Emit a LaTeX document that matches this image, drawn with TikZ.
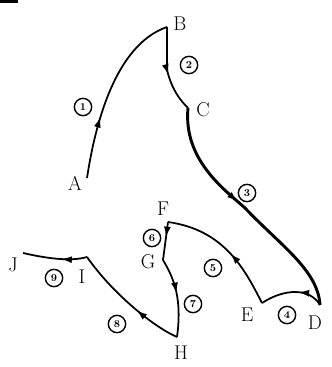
\documentclass[tikz,border=0pt]{standalone}
\usepackage{tikz}
\usetikzlibrary{arrows.meta, positioning, decorations.markings}

\tikzset{
    path/.style={line width=1.5pt},
    arr/.style={postaction={decorate, decoration={markings,
        mark=at position #1 with {\arrow{Latex[length=9pt, width=6pt]}}}}},
    num/.style={circle, draw, line width=1.2pt, inner sep=0pt, minimum size=0.52cm, font=\small\bfseries},
    lbl/.style={font=\fontsize{17}{17}\selectfont}
}

\begin{document}
\begin{tikzpicture}[x=0.03cm, y=-0.03cm]
    \useasboundingbox (0,0) rectangle (331,367);
    \fill (0,0) rectangle (18,3);

    % Punkte des Weges
    \coordinate (A) at (87,178);
    \coordinate (B) at (167,27);
    \coordinate (C) at (188,108);
    \coordinate (D) at (320,305);
    \coordinate (E) at (262,303);
    \coordinate (F) at (168,222);
    \coordinate (G) at (163,260);
    \coordinate (H) at (177,337);
    \coordinate (I) at (87,257);
    \coordinate (J) at (23,253);
    \coordinate (Bk) at (167,70);
    \coordinate (Dm) at (245,208);

    % Beschriftung der Punkte
    \node[lbl] (lA) at (75,183) {A};
    \node[lbl] (lB) at (180,24) {B};
    \node[lbl] (lC) at (203,110) {C};
    \node[lbl] (lD) at (315,323) {D};
    \node[lbl] (lE) at (247,315) {E};
    \node[lbl] (lF) at (163,209) {F};
    \node[lbl] (lG) at (148,262) {G};
    \node[lbl] (lH) at (181,353) {H};
    \node[lbl] (lI) at (82,277) {I};
    \node[lbl] (lJ) at (13,265) {J};

    % A -> B
    \draw[path, arr=0.35] (A) .. controls (95,125) and (115,45) .. (B);
    \node[num] (n1) at (83,107) {1};
    % B -> C
    \draw[path, arr=0.55] (B) -- (Bk) .. controls (172,90) and (180,100) .. (C);
    \node[num] (n2) at (189,65) {2};
    % C -> D
    \draw[line width=2.5pt, arr=0.45] (C) .. controls (183,160) and (225,190) .. (Dm)
        .. controls (280,245) and (318,270) .. (D);
    \node[num] (n3) at (247,193) {3};
    % D -> E
    \draw[path, arr=0.4] (D) .. controls (310,288) and (285,288) .. (E);
    \node[num] (n4) at (287,315) {4};
    % E -> F
    \draw[path, arr=0.45] (E) .. controls (245,270) and (225,230) .. (F);
    \node[num] (n5) at (213,268) {5};
    % F -> G
    \draw[path, arr=0.4] (F) -- (G);
    \node[num] (n6) at (152,238) {6};
    % G -> H
    \draw[path, arr=0.45] (G) .. controls (175,280) and (182,300) .. (H);
    \node[num] (n7) at (193,304) {7};
    % H -> I
    \draw[path, arr=0.4] (H) .. controls (150,325) and (110,290) .. (I);
    \node[num] (n8) at (117,324) {8};
    % I -> J
    \draw[path, arr=0.4] (I) .. controls (70,262) and (45,258) .. (J);
    \node[num] (n9) at (54,278) {9};
\end{tikzpicture}
\end{document}
